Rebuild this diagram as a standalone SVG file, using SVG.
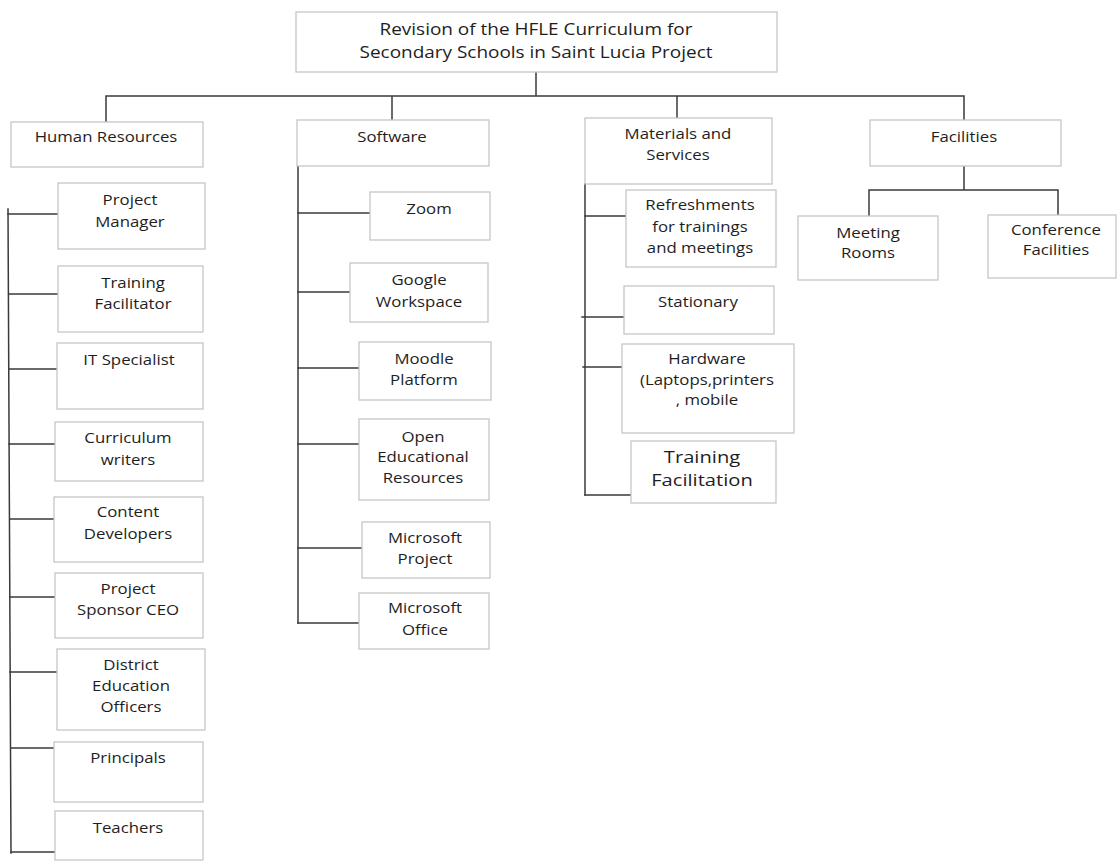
<svg xmlns="http://www.w3.org/2000/svg" width="1118" height="861" viewBox="0 0 1118 861">
  <style>
    .box { fill: #ffffff; stroke: #c6c6c6; stroke-width: 1.3; }
    .ln { stroke: #3a3a3a; stroke-width: 1.5; fill: none; stroke-linecap: square; }
    .t { font-family: "Open Sans", "Noto Sans", "Liberation Sans", sans-serif; font-size: 14px; fill: #1e1e1e; text-anchor: middle; }
    .big { font-size: 15.8px; }
    .lg { font-size: 16.8px; }
  </style>
  <rect x="0" y="0" width="1118" height="861" fill="#ffffff"/>

  <!-- connectors -->
  <g id="connectors" class="ln">
    <!-- root to categories -->
    <path d="M536 72 V96 M106 96 H964 M106 96 V122 M392 96 V120 M677 96 V118 M964 96 V120"/>
    <!-- facilities -->
    <path d="M964 166 V190 M869 190 H1058 M869 190 V216 M1058 190 V215"/>
    <!-- human resources -->
    <path d="M8 209 L11 853"/>
    <path d="M8 214 H58 M9 294 H58 M9 369 H57 M9 444 H55 M10 519 H54 M10 597 H55 M10 672 H57 M11 748 H54 M11 852 H55"/>
    <!-- software -->
    <path d="M298 166 V623"/>
    <path d="M298 213 H370 M298 292 H350 M298 368 H359 M298 444 H359 M298 548 H362 M298 623 H359"/>
    <!-- materials and services -->
    <path d="M585 184 V495"/>
    <path d="M585 216 H626 M582 317 H624 M583 367 H622 M585 495 H631"/>
  </g>

  <g id="root">
    <rect class="box" x="296" y="12" width="481" height="60"/>
    <text class="t big" transform="translate(536 35) scale(1.2 1)"><tspan x="0" y="0">Revision of the HFLE Curriculum for</tspan><tspan x="0" y="23">Secondary Schools in Saint Lucia Project</tspan></text>
  </g>

  <g id="human-resources">
    <rect class="box" x="11" y="122" width="192" height="45"/>
    <text class="t" transform="translate(106 142) scale(1.2 1)">Human Resources</text>
  </g>
  <g id="software">
    <rect class="box" x="297" y="120" width="192" height="46"/>
    <text class="t" transform="translate(392 142) scale(1.2 1)">Software</text>
  </g>
  <g id="materials">
    <rect class="box" x="585" y="118" width="187" height="66"/>
    <text class="t" transform="translate(678 139) scale(1.2 1)"><tspan x="0" y="0">Materials and</tspan><tspan x="0" y="21">Services</tspan></text>
  </g>
  <g id="facilities">
    <rect class="box" x="870" y="120" width="191" height="46"/>
    <text class="t" transform="translate(964 142) scale(1.2 1)">Facilities</text>
  </g>

  <g id="meeting-rooms">
    <rect class="box" x="798" y="216" width="140" height="64"/>
    <text class="t" transform="translate(868 238) scale(1.2 1)"><tspan x="0" y="0">Meeting</tspan><tspan x="0" y="20">Rooms</tspan></text>
  </g>
  <g id="conference-facilities">
    <rect class="box" x="988" y="215" width="128" height="63"/>
    <text class="t" transform="translate(1056 235) scale(1.2 1)"><tspan x="0" y="0">Conference</tspan><tspan x="0" y="20">Facilities</tspan></text>
  </g>

  <!-- human resources items -->
  <g id="project-manager">
    <rect class="box" x="58" y="183" width="147" height="66"/>
    <text class="t" transform="translate(130 205) scale(1.2 1)"><tspan x="0" y="0">Project</tspan><tspan x="0" y="22">Manager</tspan></text>
  </g>
  <g id="training-facilitator">
    <rect class="box" x="58" y="266" width="145" height="66"/>
    <text class="t" transform="translate(133 288) scale(1.2 1)"><tspan x="0" y="0">Training</tspan><tspan x="0" y="21">Facilitator</tspan></text>
  </g>
  <g id="it-specialist">
    <rect class="box" x="57" y="343" width="146" height="66"/>
    <text class="t" transform="translate(129 365) scale(1.2 1)">IT Specialist</text>
  </g>
  <g id="curriculum-writers">
    <rect class="box" x="55" y="422" width="148" height="59"/>
    <text class="t" transform="translate(128 443) scale(1.2 1)"><tspan x="0" y="0">Curriculum</tspan><tspan x="0" y="22">writers</tspan></text>
  </g>
  <g id="content-developers">
    <rect class="box" x="54" y="497" width="149" height="65"/>
    <text class="t" transform="translate(128 517) scale(1.2 1)"><tspan x="0" y="0">Content</tspan><tspan x="0" y="22">Developers</tspan></text>
  </g>
  <g id="project-sponsor">
    <rect class="box" x="55" y="573" width="148" height="65"/>
    <text class="t" transform="translate(128 594) scale(1.2 1)"><tspan x="0" y="0">Project</tspan><tspan x="0" y="21">Sponsor CEO</tspan></text>
  </g>
  <g id="district-officers">
    <rect class="box" x="57" y="649" width="148" height="81"/>
    <text class="t" transform="translate(131 670) scale(1.2 1)"><tspan x="0" y="0">District</tspan><tspan x="0" y="21">Education</tspan><tspan x="0" y="42">Officers</tspan></text>
  </g>
  <g id="principals">
    <rect class="box" x="54" y="742" width="149" height="60"/>
    <text class="t" transform="translate(128 763) scale(1.2 1)">Principals</text>
  </g>
  <g id="teachers">
    <rect class="box" x="55" y="811" width="148" height="49"/>
    <text class="t" transform="translate(128 833) scale(1.2 1)">Teachers</text>
  </g>

  <!-- software items -->
  <g id="zoom">
    <rect class="box" x="370" y="192" width="120" height="48"/>
    <text class="t" transform="translate(429 214) scale(1.2 1)">Zoom</text>
  </g>
  <g id="google-workspace">
    <rect class="box" x="350" y="263" width="138" height="59"/>
    <text class="t" transform="translate(419 285) scale(1.2 1)"><tspan x="0" y="0">Google</tspan><tspan x="0" y="22">Workspace</tspan></text>
  </g>
  <g id="moodle">
    <rect class="box" x="359" y="342" width="132" height="58"/>
    <text class="t" transform="translate(424 364) scale(1.2 1)"><tspan x="0" y="0">Moodle</tspan><tspan x="0" y="21">Platform</tspan></text>
  </g>
  <g id="oer">
    <rect class="box" x="359" y="419" width="130" height="81"/>
    <text class="t" transform="translate(423 442) scale(1.2 1)"><tspan x="0" y="0">Open</tspan><tspan x="0" y="20">Educational</tspan><tspan x="0" y="41">Resources</tspan></text>
  </g>
  <g id="ms-project">
    <rect class="box" x="362" y="522" width="128" height="56"/>
    <text class="t" transform="translate(425 543) scale(1.2 1)"><tspan x="0" y="0">Microsoft</tspan><tspan x="0" y="21">Project</tspan></text>
  </g>
  <g id="ms-office">
    <rect class="box" x="359" y="593" width="130" height="56"/>
    <text class="t" transform="translate(425 613) scale(1.2 1)"><tspan x="0" y="0">Microsoft</tspan><tspan x="0" y="22">Office</tspan></text>
  </g>

  <!-- materials and services items -->
  <g id="refreshments">
    <rect class="box" x="626" y="190" width="150" height="77"/>
    <text class="t" transform="translate(700 210) scale(1.2 1)"><tspan x="0" y="0">Refreshments</tspan><tspan x="0" y="22">for trainings</tspan><tspan x="0" y="43">and meetings</tspan></text>
  </g>
  <g id="stationary">
    <rect class="box" x="624" y="286" width="150" height="48"/>
    <text class="t" transform="translate(698 307) scale(1.2 1)">Stationary</text>
  </g>
  <g id="hardware">
    <rect class="box" x="622" y="344" width="172" height="89"/>
    <text class="t" transform="translate(707 364) scale(1.2 1)"><tspan x="0" y="0">Hardware</tspan><tspan x="0" y="21">(Laptops,printers</tspan><tspan x="0" y="41">, mobile</tspan></text>
  </g>
  <g id="training-facilitation">
    <rect class="box" x="631" y="441" width="145" height="62"/>
    <text class="t lg" transform="translate(702 463) scale(1.2 1)"><tspan x="0" y="0">Training</tspan><tspan x="0" y="23">Facilitation</tspan></text>
  </g>
</svg>
